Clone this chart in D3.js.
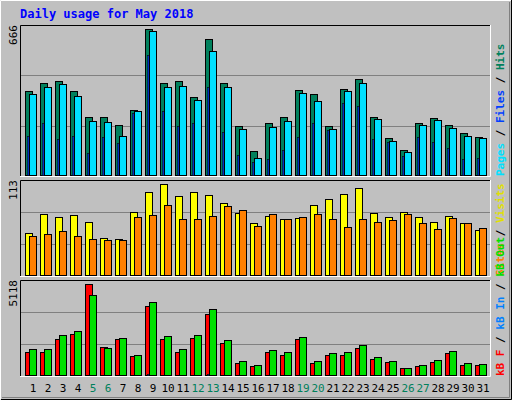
<!DOCTYPE html>
<html><head><meta charset="utf-8">
<script src="https://cdn.jsdelivr.net/npm/d3@7"></script>
<style>body{margin:0;background:#fff}</style>
</head><body>
<script>
// Tageswerte Mai 2018
var days = d3.range(1, 32);
var weekend = [5, 6, 12, 13, 19, 20, 26, 27];
var hits  = [387,423,432,383,268,268,232,301,666,423,432,360,621,423,228,115,241,268,390,372,228,395,440,268,173,119,241,264,232,196,178];
var files = [372,404,417,363,250,246,182,295,657,404,408,345,567,404,214,83,223,250,377,341,214,386,422,259,160,110,232,255,219,182,173];
var pages = [182,241,169,182,105,178,151,286,549,295,228,241,404,200,96,65,78,119,178,241,209,332,318,169,155,92,178,155,128,78,83];
var visits = [53,76,72,75,66,47,45,78,103,113,98,103,99,90,77,65,74,70,71,87,95,101,108,77,72,78,72,66,74,65,56];
var sites  = [49,51,55,49,45,44,44,72,75,87,70,70,74,86,81,62,76,70,72,76,70,60,70,66,69,76,65,58,71,65,59];
var kbF   = [1308,1308,2036,2316,5118,1588,2036,1139,3885,2036,1308,2092,3437,1812,747,579,1308,1196,2036,747,1196,1196,1532,971,803,467,579,803,1252,635,635];
var kbIn  = [60,60,50,50,60,50,20,50,110,60,50,50,110,50,20,20,20,50,60,50,20,50,60,50,20,20,20,50,20,20,20];
var kbOut = [1476,1476,2260,2484,4502,1532,2092,1196,4110,2204,1476,2260,3717,1980,859,635,1420,1308,2148,859,1252,1308,1700,1083,859,467,635,915,1364,747,691];

var W = 512, H = 400, font = "DejaVu Sans Mono, monospace";
var svg = d3.select("body").append("svg").attr("width", W).attr("height", H);
svg.append("rect").attr("width", W).attr("height", H).attr("fill", "#c0c0c0");
svg.append("path").attr("d", "M0.5,399.5V0.5H511.5").attr("stroke", "#fff").attr("fill", "none");
svg.append("path").attr("d", "M1,399.5H511.5V0").attr("stroke", "#000").attr("fill", "none");
svg.append("path").attr("d", "M2,397.5H509.5V2").attr("stroke", "#808080").attr("fill", "none");

svg.append("text").attr("x", 20).attr("y", 18).attr("font-family", font).attr("font-weight", "bold")
  .attr("font-size", 12).attr("fill", "#0000ff").text("Daily usage for May 2018");

var x = d3.scaleBand().domain(days).range([25, 490]).paddingInner(0);

function panel(top, bottom, max, series, labels) {
  // Rahmen + Gitterlinien
  svg.append("rect").attr("x", 20).attr("y", top).attr("width", 470).attr("height", bottom - top).attr("fill", "#c0c0c0");
  var y = d3.scaleLinear().domain([0, max]).range([bottom, top + 4]);
  [1, 2].forEach(function(k) {
    var gy = Math.round(bottom - (bottom - top) * k / 3) + 0.5;
    svg.append("line").attr("x1", 21).attr("x2", 490).attr("y1", gy).attr("y2", gy).attr("stroke", "#808080");
  });
  svg.append("path").attr("d", "M20.5," + bottom + "V" + (top + 0.5) + "H490").attr("stroke", "#000").attr("fill", "none");
  svg.append("path").attr("d", "M20," + (bottom + 0.5) + "H490.5V" + top).attr("stroke", "#fff").attr("fill", "none");
  series.forEach(function(s) {
    svg.append("g").selectAll("rect").data(s.data).enter().append("rect")
      .attr("x", function(d, i) { return x(days[i]) + s.off + 0.5; })
      .attr("y", function(d) { return Math.round(y(d)) + 0.5; })
      .attr("width", s.w)
      .attr("height", function(d) { return Math.max(0, bottom - Math.round(y(d)) - 1); })
      .attr("fill", s.color).attr("stroke", "#000").attr("stroke-width", s.w < 3 ? 0.5 : 1);
  });
  svg.append("text").attr("transform", "translate(17," + top + ") rotate(-90)")
    .attr("text-anchor", "end").attr("font-family", font).attr("font-size", 11).attr("fill", "#000").text(max);
  // rechte Legende, von unten nach oben
  var t = svg.append("text").attr("transform", "translate(504," + (bottom) + ") rotate(-90)")
    .attr("font-family", font).attr("font-size", 11).attr("font-weight", "bold");
  labels.forEach(function(l, i) {
    if (i > 0) t.append("tspan").attr("fill", "#000").text(" / ");
    t.append("tspan").attr("fill", l.color).text(l.name);
  });
}

panel(25, 176, 666, [
  {data: hits, color: "#00805c", off: 0, w: 7},
  {data: files, color: "#00e0ff", off: 4, w: 7},
  {data: pages, color: "#0040ff", off: 2, w: 1.5}
], [{name: "Pages", color: "#00e0ff"}, {name: "Files", color: "#0040ff"}, {name: "Hits", color: "#00805c"}]);

panel(180, 276, 113, [
  {data: visits, color: "#ffff00", off: 0, w: 7},
  {data: sites, color: "#ff8000", off: 4, w: 7}
], [{name: "Sites", color: "#ff8000"}, {name: "Visits", color: "#e0e000"}]);

panel(280, 376, 5118, [
  {data: kbF, color: "#ff0000", off: 0, w: 7},
  {data: kbOut, color: "#00e000", off: 4, w: 7},
  {data: kbIn, color: "#0080ff", off: 2, w: 1.5}
], [{name: "kB F", color: "#ff0000"}, {name: "kB In", color: "#0080ff"}, {name: "kB Out", color: "#00e000"}]);

svg.append("g").selectAll("text").data(days).enter().append("text")
  .attr("x", function(d) { return x(d) + 8; }).attr("y", 392)
  .attr("text-anchor", "middle").attr("font-family", font).attr("font-size", 11)
  .attr("fill", function(d) { return weekend.indexOf(d) >= 0 ? "#00805c" : "#000"; })
  .text(function(d) { return d; });
</script>
</body></html>
